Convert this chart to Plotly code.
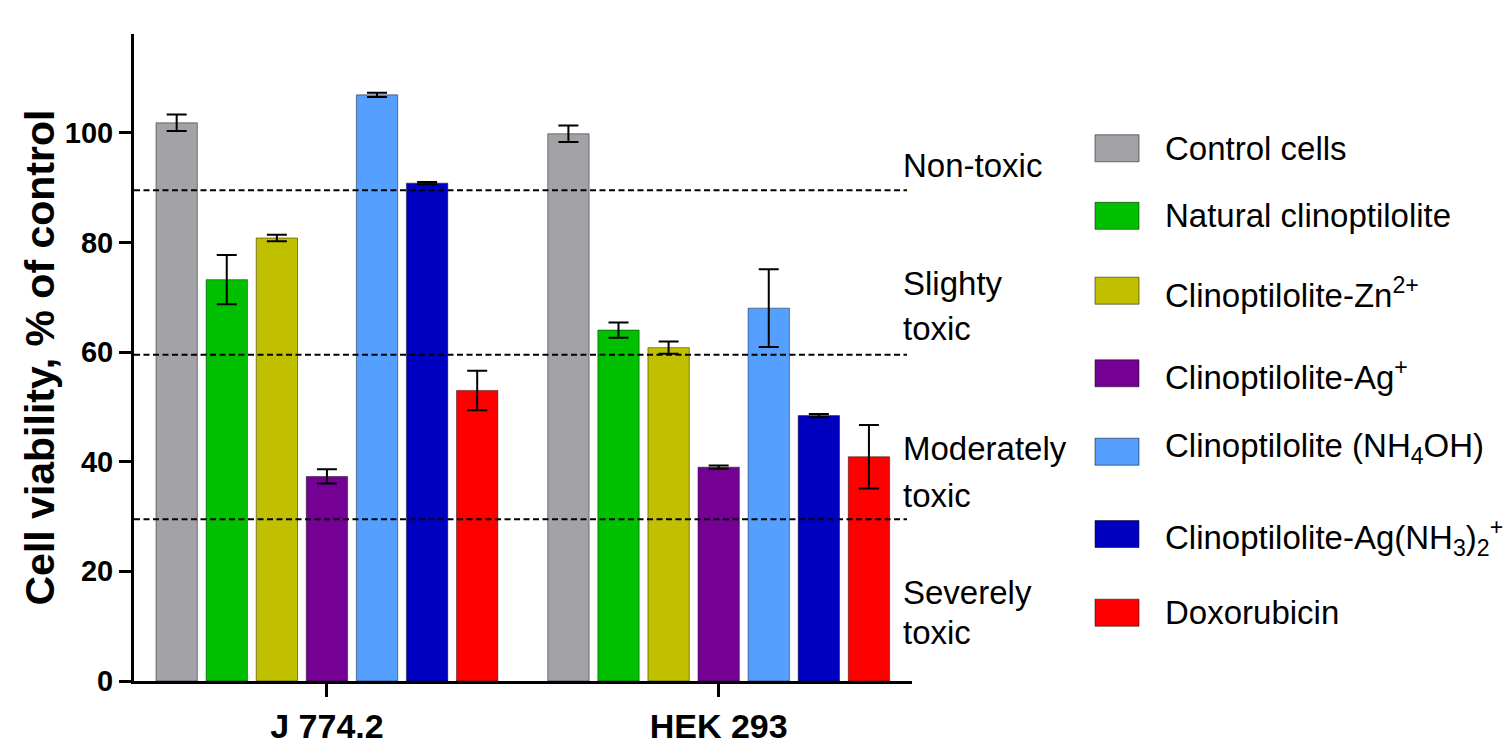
import plotly.graph_objects as go

# ---------------- data ----------------
cell_lines = ["J 774.2", "HEK 293"]
treatments = [
    "Control cells",
    "Natural clinoptilolite",
    "Clinoptilolite-Zn<sup>2+</sup>",
    "Clinoptilolite-Ag<sup>+</sup>",
    "Clinoptilolite (NH<sub>4</sub>OH)",
    "Clinoptilolite-Ag(NH<sub>3</sub>)<sub>2</sub><sup>+</sup>",
    "Doxorubicin",
]
colors = ["#A3A2A7", "#00C000", "#C0C000", "#740094", "#55A0FF", "#0000C0", "#FF0000"]

viability_j774 = [101.8, 73.2, 80.8, 37.3, 106.9, 90.8, 53.0]
error_j774 = [1.5, 4.5, 0.6, 1.3, 0.4, 0.2, 3.6]
viability_hek = [99.8, 64.0, 60.8, 39.0, 68.0, 48.4, 40.9]
error_hek = [1.5, 1.4, 1.1, 0.3, 7.1, 0.3, 5.8]

thresholds = [89.5, 59.5, 29.5]
zone_labels = [["Non-toxic"], ["Slighty", "toxic"], ["Moderately", "toxic"], ["Severely", "toxic"]]

y_ticks = [0, 20, 40, 60, 80, 100]
y_title = "Cell viability, % of control"

# ---------------- layout geometry ----------------
# the page body adds an 8px margin, so the figure is 8px smaller and offset
OFF = 8
W, H = 1511 - OFF, 745 - OFF
ML, MR, MT, MB = 134 - OFF, 599, 34 - OFF, 64
PW, PH = W - ML - MR, H - MT - MB

def px_x(px):
    return (px - OFF - ML) / PW

def px_y(py):
    return (H - MB - (py - OFF)) / PH

FONT = "Liberation Sans, Arial, sans-serif"

fig = go.Figure()
for i, name in enumerate(treatments):
    fig.add_trace(go.Bar(
        name=name,
        x=cell_lines,
        y=[viability_j774[i], viability_hek[i]],
        error_y=dict(type="data", array=[error_j774[i], error_hek[i]],
                     color="black", thickness=2, width=10),
        marker=dict(color=colors[i], line=dict(color="rgba(0,0,0,0.45)", width=1)),
        showlegend=False,
    ))

shapes = []
for t in thresholds:
    shapes.append(dict(type="line", xref="paper", yref="y", x0=0, x1=px_x(907), y0=t, y1=t,
                       line=dict(color="black", width=2, dash="6px,3.5px")))

annotations = []
zone_centers = [[165.5], [283.5, 328.5], [448.5, 495.5], [592, 632.5]]
for lines, ys in zip(zone_labels, zone_centers):
    for txt, yy in zip(lines, ys):
        annotations.append(dict(text=txt, xref="paper", yref="paper", x=px_x(901), y=px_y(yy),
                                xanchor="left", yanchor="middle", showarrow=False,
                                font=dict(family=FONT, size=33, color="black")))

# manual legend
sw_centers = [148.3, 215.8, 290.7, 373.3, 451.7, 534.0, 612.7]
text_centers = [148.3, 215.8, 293.0, 375.0, 448.0, 537.0, 612.7]
for i, name in enumerate(treatments):
    cy = sw_centers[i]
    shapes.append(dict(type="rect", xref="paper", yref="paper",
                       x0=px_x(1095), x1=px_x(1139), y0=px_y(cy + 13.5), y1=px_y(cy - 13.5),
                       fillcolor=colors[i], line=dict(color="rgba(0,0,0,0.5)", width=1)))
    annotations.append(dict(text=name, xref="paper", yref="paper", x=px_x(1163), y=px_y(text_centers[i]),
                            xanchor="left", yanchor="middle", showarrow=False,
                            font=dict(family=FONT, size=33, color="black")))

annotations.append(dict(text="<b>" + y_title + "</b>", xref="paper", yref="paper",
                        x=px_x(39), y=px_y(357.5), xanchor="center", yanchor="middle",
                        textangle=-90, showarrow=False,
                        font=dict(family=FONT, size=41, color="black")))

fig.update_layout(
    width=W, height=H, autosize=False,
    margin=dict(l=ML, r=MR, t=MT, b=MB, pad=0, autoexpand=False),
    paper_bgcolor="white", plot_bgcolor="white",
    barmode="group", bargap=0.105, bargroupgap=0.175,
    shapes=shapes, annotations=annotations,
    xaxis=dict(range=[-0.4925, 1.4935], showline=True, linecolor="black", linewidth=3,
               ticks="outside", ticklen=13, tickwidth=3, tickcolor="black",
               tickfont=dict(family=FONT, size=34, color="black", weight="bold"),
               showgrid=False, zeroline=False, automargin=False),
    yaxis=dict(range=[0, 118], tickvals=y_ticks, showline=True, linecolor="black", linewidth=3,
               ticks="outside", ticklen=12, tickwidth=3, tickcolor="black",
               tickfont=dict(family=FONT, size=29, color="black", weight="bold"),
               showgrid=False, zeroline=False, automargin=False),
)

fig.write_html("out.html")
